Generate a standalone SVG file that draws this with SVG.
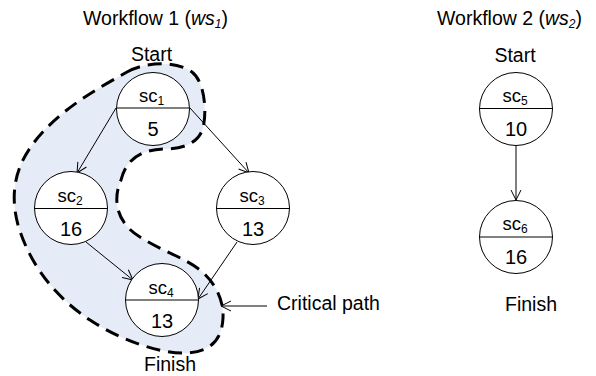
<svg xmlns="http://www.w3.org/2000/svg" width="596" height="376" viewBox="0 0 596 376">
  <defs>
    <style>
      text { font-family: "Liberation Sans", Arial, sans-serif; fill: #000; }
      .title { font-size: 19.5px; }
      .word { font-size: 19.5px; text-anchor: middle; }
      .lbl { font-size: 18.5px; text-anchor: middle; }
      .num { font-size: 20px; text-anchor: middle; }
      .sub { font-size: 12px; }
      .node circle { fill: #fff; stroke: #000; stroke-width: 1; }
      .node line { stroke: #000; stroke-width: 1; }
      .edge { stroke: #000; stroke-width: 1; fill: none; marker-end: url(#arrow); }
      .crit { fill: #e6ecf7; stroke: #000; stroke-width: 3; stroke-dasharray: 14 8; }
    </style>
    <marker id="arrow" viewBox="-11 -6 13 12" refX="0" refY="0" markerWidth="13" markerHeight="12" markerUnits="userSpaceOnUse" orient="auto">
      <path d="M -10,-5 L 0,0 L -10,5" fill="none" stroke="#000" stroke-width="1"/>
    </marker>
  </defs>

  <rect width="596" height="376" fill="#fff"/>

  <!-- shaded critical path region -->
  <path id="critical-region" class="crit" d="M 127,72 C 145,62 175,60 192,72 C 205,82 207,112 203,128 C 198,145 180,149 163,149 C 140,150 126,160 121,180 C 113,198 115,222 140,237 C 160,250 185,258 200,270 C 215,282 224,300 223,318 C 222,340 210,352 187,353 C 160,354 120,340 90,320 C 55,297 30,265 18,225 C 10,195 15,170 30,148 C 55,112 95,90 127,72 Z"/>

  <!-- titles and labels -->
  <text class="title" x="83" y="25">Workflow 1 (<tspan font-style="italic">ws</tspan><tspan class="sub" font-style="italic" dy="3">1</tspan><tspan dy="-3">)</tspan></text>
  <text class="title" x="437" y="25">Workflow 2 (<tspan font-style="italic">ws</tspan><tspan class="sub" font-style="italic" dy="3">2</tspan><tspan dy="-3">)</tspan></text>
  <text class="word" x="151.5" y="61">Start</text>
  <text class="word" x="515" y="62">Start</text>
  <text class="word" x="170" y="371">Finish</text>
  <text class="word" x="531" y="311">Finish</text>
  <text class="title" x="277" y="310">Critical path</text>

  <!-- connectors -->
  <g id="connectors">
    <line class="edge" x1="116" y1="108" x2="77" y2="173"/>
    <line class="edge" x1="190" y1="108" x2="249" y2="173"/>
    <line class="edge" x1="86" y1="242" x2="133" y2="280"/>
    <line class="edge" x1="237" y1="242" x2="198" y2="299"/>
    <line class="edge" x1="516" y1="146" x2="516" y2="200"/>
    <line class="edge" x1="267" y1="306" x2="221" y2="306"/>
  </g>

  <!-- nodes -->
  <g id="sc1" class="node">
    <circle cx="153" cy="109" r="36.5"/>
    <line x1="116.5" y1="108" x2="189.5" y2="108"/>
    <text class="lbl" x="151.5" y="102">sc<tspan class="sub" dy="3">1</tspan></text>
    <text class="num" x="153" y="136">5</text>
  </g>
  <g id="sc2" class="node">
    <circle cx="71" cy="208" r="36.5"/>
    <line x1="34.5" y1="208.5" x2="107.5" y2="208.5"/>
    <text class="lbl" x="70" y="202">sc<tspan class="sub" dy="3">2</tspan></text>
    <text class="num" x="71" y="236">16</text>
  </g>
  <g id="sc3" class="node">
    <circle cx="253" cy="208" r="36.5"/>
    <line x1="216.5" y1="208.5" x2="289.5" y2="208.5"/>
    <text class="lbl" x="252" y="202">sc<tspan class="sub" dy="3">3</tspan></text>
    <text class="num" x="253" y="236">13</text>
  </g>
  <g id="sc4" class="node">
    <circle cx="162" cy="300" r="36.5"/>
    <line x1="125.5" y1="300" x2="198.5" y2="300"/>
    <text class="lbl" x="161" y="294">sc<tspan class="sub" dy="3">4</tspan></text>
    <text class="num" x="162" y="328">13</text>
  </g>
  <g id="sc5" class="node">
    <circle cx="516" cy="109" r="36.5"/>
    <line x1="479.5" y1="108.5" x2="552.5" y2="108.5"/>
    <text class="lbl" x="515" y="102">sc<tspan class="sub" dy="3">5</tspan></text>
    <text class="num" x="516" y="136">10</text>
  </g>
  <g id="sc6" class="node">
    <circle cx="516" cy="237" r="36.5"/>
    <line x1="479.5" y1="237" x2="552.5" y2="237"/>
    <text class="lbl" x="515" y="230">sc<tspan class="sub" dy="3">6</tspan></text>
    <text class="num" x="516" y="264">16</text>
  </g>
</svg>
